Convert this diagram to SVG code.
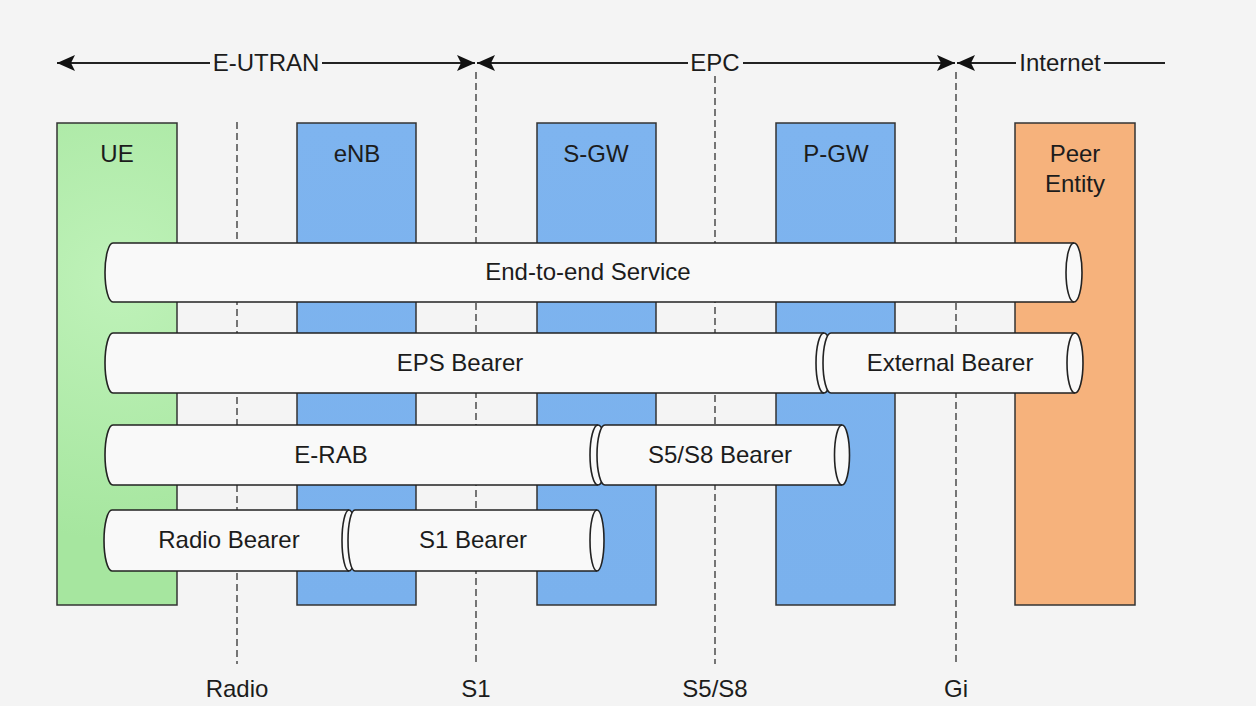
<svg xmlns="http://www.w3.org/2000/svg" width="1256" height="706" viewBox="0 0 1256 706">
<defs>
<style>
text{font-family:"Liberation Sans",Arial,sans-serif;font-size:24px;fill:#1c1c1c;text-anchor:middle}
.ax{stroke:#222;stroke-width:2;fill:none}
.dash{stroke:#555;stroke-width:1.6;stroke-dasharray:7 4;fill:none}
.box{stroke:#333;stroke-width:1.5}
.pipe{fill:#f9f9f9;stroke:#222;stroke-width:1.6}
.end{fill:none;stroke:#222;stroke-width:1.6}
</style>
<marker id="arr" markerUnits="userSpaceOnUse" viewBox="0 0 18 16" refX="18" refY="8" markerWidth="18" markerHeight="16" orient="auto">
<path d="M0,0 L18,8 L0,16 L4,8 Z" fill="#111"/>
</marker>
<radialGradient id="gUE" gradientUnits="userSpaceOnUse" cx="117" cy="280" r="260">
<stop offset="0" stop-color="#bff2b9"/>
<stop offset="1" stop-color="#a6e69f"/>
</radialGradient>
<linearGradient id="gBlue" x1="0" y1="0" x2="0" y2="1">
<stop offset="0" stop-color="#7eb4ef"/>
<stop offset="1" stop-color="#7ab1ed"/>
</linearGradient>
</defs>
<rect width="1256" height="706" fill="#f4f4f4"/>

<g id="connectors">
<path class="ax" d="M210 63H57" marker-end="url(#arr)"/>
<path class="ax" d="M322 63H475" marker-end="url(#arr)"/>
<path class="ax" d="M688 63H477" marker-end="url(#arr)"/>
<path class="ax" d="M743 63H955" marker-end="url(#arr)"/>
<path class="ax" d="M1016 63H957" marker-end="url(#arr)"/>
<path class="ax" d="M1104 63H1165"/>
<path class="dash" d="M237 122V664"/>
<path class="dash" d="M476 72V664"/>
<path class="dash" d="M715 76V664"/>
<path class="dash" d="M956 72V664"/>
</g>

<g id="domains">
<text x="266" y="71">E-UTRAN</text>
<text x="715" y="71">EPC</text>
<text x="1060" y="71">Internet</text>
</g>

<g id="ue"><rect class="box" x="57" y="123" width="120" height="482" fill="url(#gUE)"/><text x="117" y="162">UE</text></g>
<g id="enb"><rect class="box" x="297" y="123" width="119" height="482" fill="url(#gBlue)"/><text x="357" y="162">eNB</text></g>
<g id="sgw"><rect class="box" x="537" y="123" width="119" height="482" fill="url(#gBlue)"/><text x="596" y="162">S-GW</text></g>
<g id="pgw"><rect class="box" x="776" y="123" width="119" height="482" fill="url(#gBlue)"/><text x="836" y="162">P-GW</text></g>
<g id="peer"><rect class="box" x="1015" y="123" width="120" height="482" fill="#f6b27c"/><text x="1075" y="162">Peer</text><text x="1075" y="192">Entity</text></g>

<g id="e2e">
<path class="pipe" d="M113 243H1074A8 29.5 0 0 1 1074 302H113A8 29.5 0 0 1 113 243Z"/>
<path class="end" d="M1074 302A8 29.5 0 0 1 1074 243"/>
<text x="588" y="280">End-to-end Service</text>
</g>

<g id="eps">
<path class="pipe" d="M113 333H824A8 30 0 0 1 824 393H113A8 30 0 0 1 113 333Z"/>
<path class="end" d="M824 393A8 30 0 0 1 824 333"/>
<text x="460" y="371">EPS Bearer</text>
</g>
<g id="ext">
<path class="pipe" d="M831 333H1075A8 30 0 0 1 1075 393H831A8 30 0 0 1 831 333Z"/>
<path class="end" d="M1075 393A8 30 0 0 1 1075 333"/>
<text x="950" y="371">External Bearer</text>
</g>

<g id="erab">
<path class="pipe" d="M113 425H598A8 30 0 0 1 598 485H113A8 30 0 0 1 113 425Z"/>
<path class="end" d="M598 485A8 30 0 0 1 598 425"/>
<text x="331" y="463">E-RAB</text>
</g>
<g id="s5s8">
<path class="pipe" d="M605 425H842A7.5 30 0 0 1 842 485H605A8 30 0 0 1 605 425Z"/>
<path class="end" d="M842 485A7.5 30 0 0 1 842 425"/>
<text x="720" y="463">S5/S8 Bearer</text>
</g>

<g id="radio">
<path class="pipe" d="M112 510H349A7 30.5 0 0 1 349 571H112A8 30.5 0 0 1 112 510Z"/>
<path class="end" d="M349 571A7 30.5 0 0 1 349 510"/>
<text x="229" y="548">Radio Bearer</text>
</g>
<g id="s1">
<path class="pipe" d="M355 510H597A7 30.5 0 0 1 597 571H355A7 30.5 0 0 1 355 510Z"/>
<path class="end" d="M597 571A7 30.5 0 0 1 597 510"/>
<text x="473" y="548">S1 Bearer</text>
</g>

<g id="interfaces">
<text x="237" y="697">Radio</text>
<text x="476" y="697">S1</text>
<text x="715" y="697">S5/S8</text>
<text x="956" y="697">Gi</text>
</g>
</svg>
